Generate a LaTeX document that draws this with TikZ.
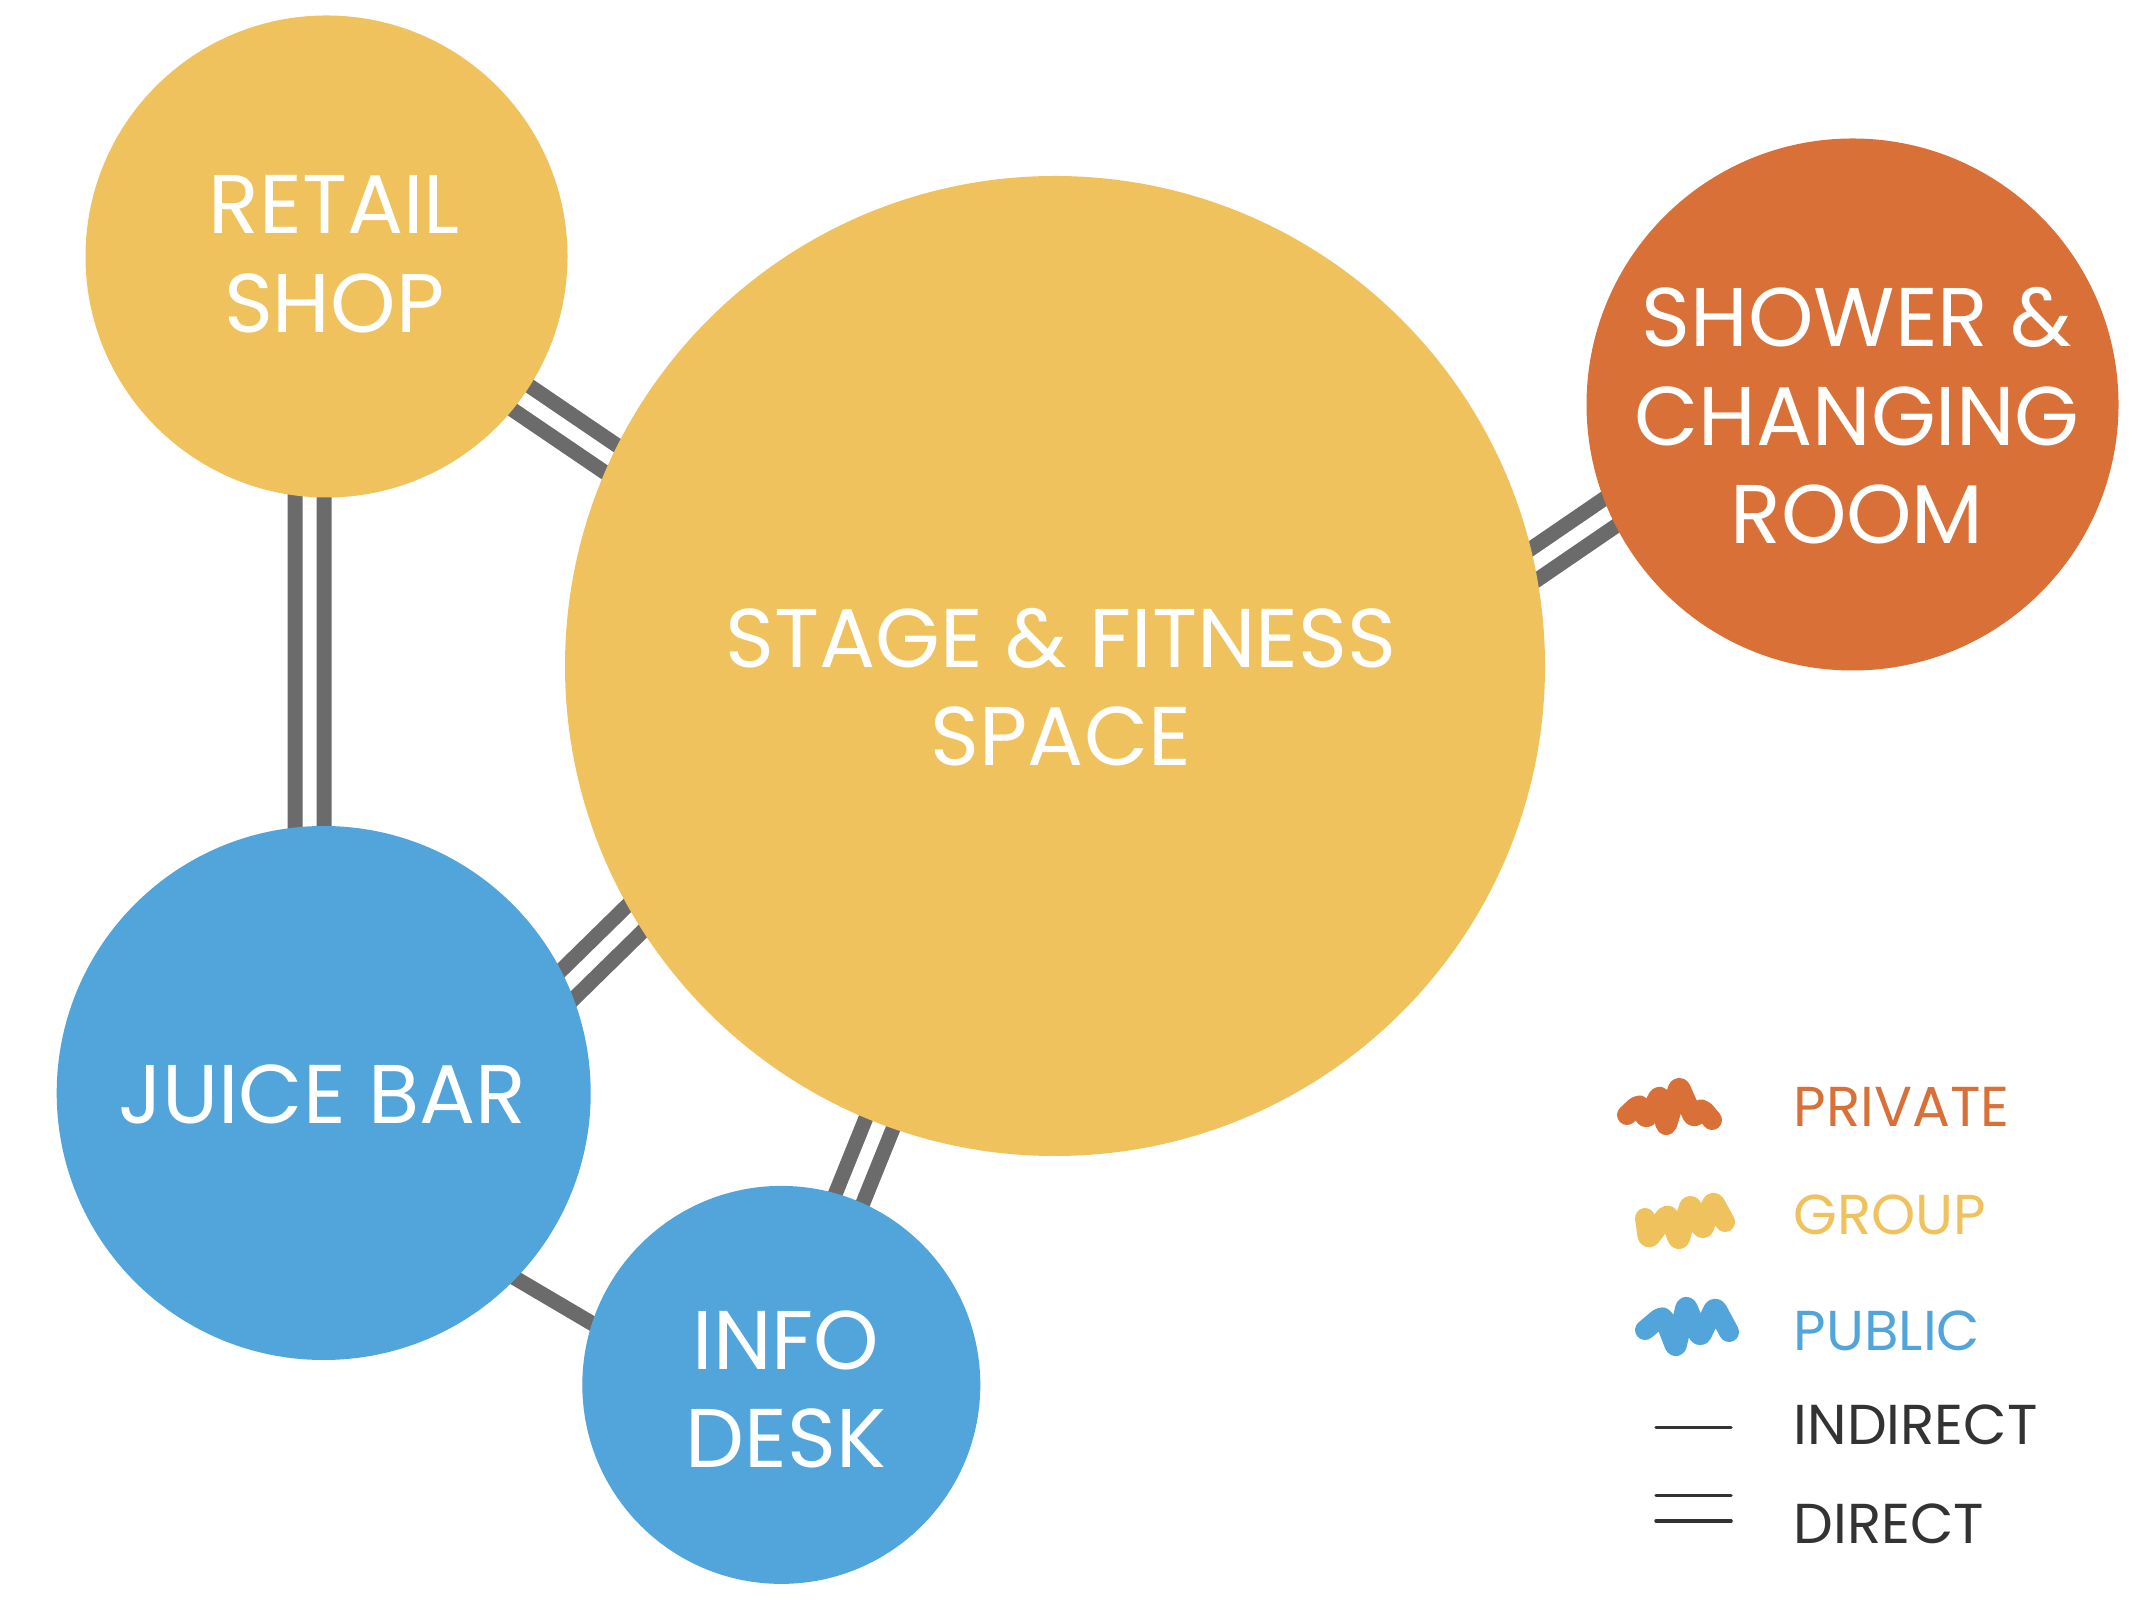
\documentclass[tikz,border=0pt]{standalone}
\usepackage{fontspec}
\setmainfont{Poppins}
\usetikzlibrary{backgrounds}

\definecolor{group}{HTML}{EFC25E}
\definecolor{private}{HTML}{D87038}
\definecolor{public}{HTML}{52A5DA}
\definecolor{linkgray}{HTML}{6B6B6B}
\definecolor{keydark}{HTML}{333333}

\begin{document}
\begin{tikzpicture}[
	room/.style={circle, inner sep=0pt, outer sep=0pt},
	roomlabel/.style={text=white, align=center, inner sep=0pt, font=\fontsize{23.7}{28}\selectfont},
	direct/.style={draw=linkgray, line width=0.15cm, double=white, double distance=0.14cm, shorten <=-0.3cm, shorten >=-0.3cm},
	indirect/.style={draw=linkgray, line width=0.15cm, shorten <=-0.3cm, shorten >=-0.3cm},
	keytext/.style={anchor=base west, inner sep=0pt, font=\fontsize{16}{19}\selectfont},
	scribble/.style={line width=0.2cm, line cap=round, line join=round, rounded corners=1.5pt},
	keyline/.style={draw=keydark, line width=0.035cm, line cap=round}
	]
		
		\useasboundingbox (0,0) rectangle (21.4,16.02);
		
		\node[room, fill=group, minimum size=4.82cm] (retail) at (3.265,13.455) {};
		\node[room, fill=group, minimum size=9.80cm] (stage) at (10.55,9.36) {};
		\node[room, fill=private, minimum size=5.32cm] (shower) at (18.525,11.975) {};
		\node[room, fill=public, minimum size=5.34cm] (juice) at (3.237,5.09) {};
		\node[room, fill=public, minimum size=3.98cm] (info) at (7.813,2.171) {};
		
		\node[roomlabel] (retail-label) at (3.342,13.477) {RETAIL\\SHOP};
		\node[roomlabel] (stage-label) at (10.61,9.147) {STAGE \& FITNESS\\SPACE};
		\node[roomlabel] (shower-label) at (18.57,11.862) {SHOWER \&\\CHANGING\\ROOM};
		\node[roomlabel] (juice-label) at (3.22,5.072) {JUICE BAR};
		\node[roomlabel] (info-label) at (7.86,2.125) {INFO\\DESK};
		
		\begin{pgfonlayer}{background}
			\draw[direct] (retail.266) -- (juice.93);
			\draw[direct] (retail.-36) -- (stage.155.5);
			\draw[direct] (juice.24.3) -- (stage.211.8);
			\draw[direct] (stage.12.4) -- (shower.204.8);
			\draw[direct] (stage.249.3) -- (info.70.1);
			\draw[indirect] (juice.-44) -- (info.162.7);
		\end{pgfonlayer}
		
		
		
		\draw[scribble, private] (16.27,4.87) -- (16.40,4.99) -- (16.46,4.82) -- (16.60,5.08) -- (16.66,4.74) -- (16.79,5.17) -- (16.94,4.83) -- (17.01,4.95) -- (17.12,4.82);
		\draw[scribble, group] (16.45,3.84) -- (16.48,3.62) -- (16.68,3.89) -- (16.79,3.60) -- (16.90,3.99) -- (17.03,3.71) -- (17.13,4.02) -- (17.25,3.80);
		\draw[scribble, public] (16.45,2.72) -- (16.63,2.87) -- (16.76,2.53) -- (16.86,2.98) -- (17.00,2.64) -- (17.15,2.96) -- (17.29,2.70);
		
		\draw[keyline] (16.56,1.747) -- (17.31,1.747);
		\draw[keyline] (16.56,1.067) -- (17.31,1.067);
		\draw[keyline] (16.56,0.81) -- (17.31,0.81);
		
		\node[keytext, text=private] (key-private) at (17.93,4.758) {PRIVATE};
		\node[keytext, text=group] (key-group) at (17.93,3.677) {GROUP};
		\node[keytext, text=public] (key-public) at (17.93,2.517) {PUBLIC};
		\node[keytext, text=keydark] (key-indirect) at (17.93,1.577) {INDIRECT};
		\node[keytext, text=keydark] (key-direct) at (17.93,0.59) {DIRECT};
		
\end{tikzpicture}
\end{document}
